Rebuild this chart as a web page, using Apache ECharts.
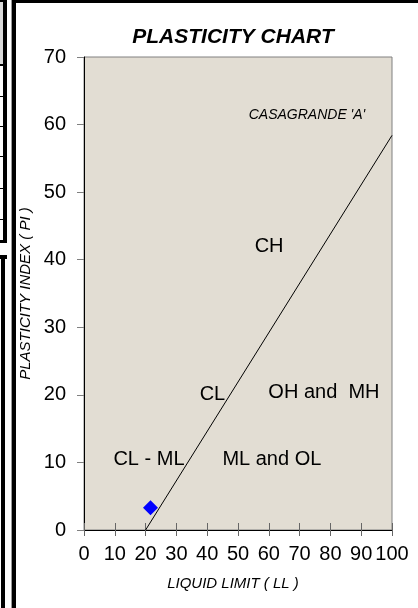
<!DOCTYPE html>
<html>
<head>
<meta charset="utf-8">
<script src="https://cdn.jsdelivr.net/npm/echarts@6/dist/echarts.min.js"></script>
<style>
html,body{margin:0;padding:0;background:#fff;}
#c{width:418px;height:608px;}
</style>
</head>
<body>
<div id="c"></div>
<script>
// ---- data ----
var xTicks = [0, 10, 20, 30, 40, 50, 60, 70, 80, 90, 100];
var yTicks = [0, 10, 20, 30, 40, 50, 60, 70];
var aLineLL = [20, 100];
var aLinePI = [0, 58.4];
var sampleLL = [21.6];
var samplePI = [3.3];
var zoneNames = ['CH', 'CL', 'CL - ML', 'ML and OL', 'OH and  MH'];
var zoneLL = [60.1, 41.7, 21.1, 61.0, 77.9];
var zonePI = [42.0, 20.0, 10.4, 10.4, 20.3];
var noteName = ["CASAGRANDE 'A'"];
var noteLL = [72.4];
var notePI = [61.4];

var FONT = "'Liberation Sans', Arial, sans-serif";

function pairs(xs, ys) { return xs.map(function (x, i) { return [x, ys[i]]; }); }
function named(ns, xs, ys) { return ns.map(function (n, i) { return { name: n, value: [xs[i], ys[i]] }; }); }

var chart = echarts.init(document.getElementById('c'), null, { renderer: 'canvas' });

var deco = [
  // panel border
  { type: 'rect', shape: { x: 11, y: 0, width: 1, height: 608 }, style: { fill: '#9a9a9a' }, z: 10 },
  { type: 'rect', shape: { x: 12, y: 0, width: 4, height: 608 }, style: { fill: '#000' }, z: 10 },
  { type: 'rect', shape: { x: 12, y: 0, width: 406, height: 3 }, style: { fill: '#000' }, z: 10 },
  // left fragment, top block
  { type: 'rect', shape: { x: 0, y: 2, width: 3, height: 62 }, style: { fill: '#d9d9d9' }, z: 10 },
  { type: 'rect', shape: { x: 0, y: 0, width: 7, height: 2 }, style: { fill: '#000' }, z: 10 },
  { type: 'rect', shape: { x: 3, y: 0, width: 4, height: 243 }, style: { fill: '#000' }, z: 10 },
  { type: 'rect', shape: { x: 0, y: 64, width: 3, height: 2 }, style: { fill: '#000' }, z: 10 },
  { type: 'rect', shape: { x: 0, y: 240, width: 7, height: 3 }, style: { fill: '#000' }, z: 10 },
  // left fragment, lower block
  { type: 'rect', shape: { x: 0, y: 255, width: 7, height: 4 }, style: { fill: '#000' }, z: 10 },
  { type: 'rect', shape: { x: 1, y: 255, width: 4, height: 353 }, style: { fill: '#000' }, z: 10 }
];
[96, 126, 156, 188, 219].forEach(function (y) {
  deco.push({ type: 'rect', shape: { x: 0, y: y, width: 3, height: 1 }, style: { fill: '#000' }, z: 10 });
});

chart.setOption({
  animation: false,
  backgroundColor: '#ffffff',
  textStyle: { fontFamily: FONT },
  title: {
    text: 'PLASTICITY CHART',
    left: 228, top: 22, textAlign: 'center',
    textStyle: { fontFamily: FONT, fontSize: 21, fontWeight: 'bold', fontStyle: 'italic', color: '#000' }
  },
  grid: {
    left: 84, top: 57, right: 26, bottom: 78,
    show: true, backgroundColor: '#e2ddd3', borderColor: '#808080', borderWidth: 1
  },
  xAxis: [{
    type: 'value', min: 0, max: 100, interval: 10,
    name: 'LIQUID LIMIT ( LL )', nameLocation: 'middle', nameGap: 46,
    nameTextStyle: { fontFamily: FONT, fontSize: 15, fontStyle: 'italic', color: '#000', padding: [0, 10, 0, 0] },
    axisLine: { show: true, lineStyle: { color: '#000', width: 1 } },
    axisTick: { show: true, inside: false, length: 6, lineStyle: { color: '#666' } },
    axisLabel: { fontFamily: FONT, fontSize: 20, color: '#000', margin: 14,
      formatter: function (v) { return xTicks.indexOf(v) >= 0 ? String(v) : ''; } },
    splitLine: { show: false }
  }, {
    type: 'value', min: 0, max: 100, interval: 10, position: 'bottom', gridIndex: 0,
    axisLine: { show: false },
    axisTick: { show: true, inside: true, length: 7, lineStyle: { color: '#666' } },
    axisLabel: { show: false }, splitLine: { show: false }
  }],
  yAxis: {
    type: 'value', min: 0, max: 70, interval: 10,
    name: 'PLASTICITY INDEX ( PI )', nameLocation: 'middle', nameGap: 42,
    nameTextStyle: { fontFamily: FONT, fontSize: 15, fontStyle: 'italic', color: '#000' },
    axisLine: { show: true, lineStyle: { color: '#000', width: 1 } },
    axisTick: { show: true, inside: false, length: 7, lineStyle: { color: '#808080' } },
    axisLabel: { fontFamily: FONT, fontSize: 20, color: '#000', margin: 18,
      formatter: function (v) { return yTicks.indexOf(v) >= 0 ? String(v) : ''; } },
    splitLine: { show: false }
  },
  series: [{
    type: 'line', data: pairs(aLineLL, aLinePI), showSymbol: false, symbol: 'none',
    lineStyle: { color: '#000', width: 1 }, z: 3, silent: true
  }, {
    type: 'scatter', data: pairs(sampleLL, samplePI), symbol: 'diamond', symbolSize: 15,
    itemStyle: { color: '#0000ff', opacity: 1 }, z: 5
  }, {
    type: 'scatter', data: named(zoneNames, zoneLL, zonePI), symbolSize: 0, z: 4,
    itemStyle: { opacity: 1 },
    label: { show: true, position: 'inside', formatter: '{b}', fontFamily: FONT, fontSize: 20, color: '#000' }
  }, {
    type: 'scatter', data: named(noteName, noteLL, notePI), symbolSize: 0, z: 4,
    itemStyle: { opacity: 1 },
    label: { show: true, position: 'inside', formatter: '{b}', fontFamily: FONT, fontSize: 14, fontStyle: 'italic', color: '#000' }
  }],
  graphic: deco
});
</script>
</body>
</html>
